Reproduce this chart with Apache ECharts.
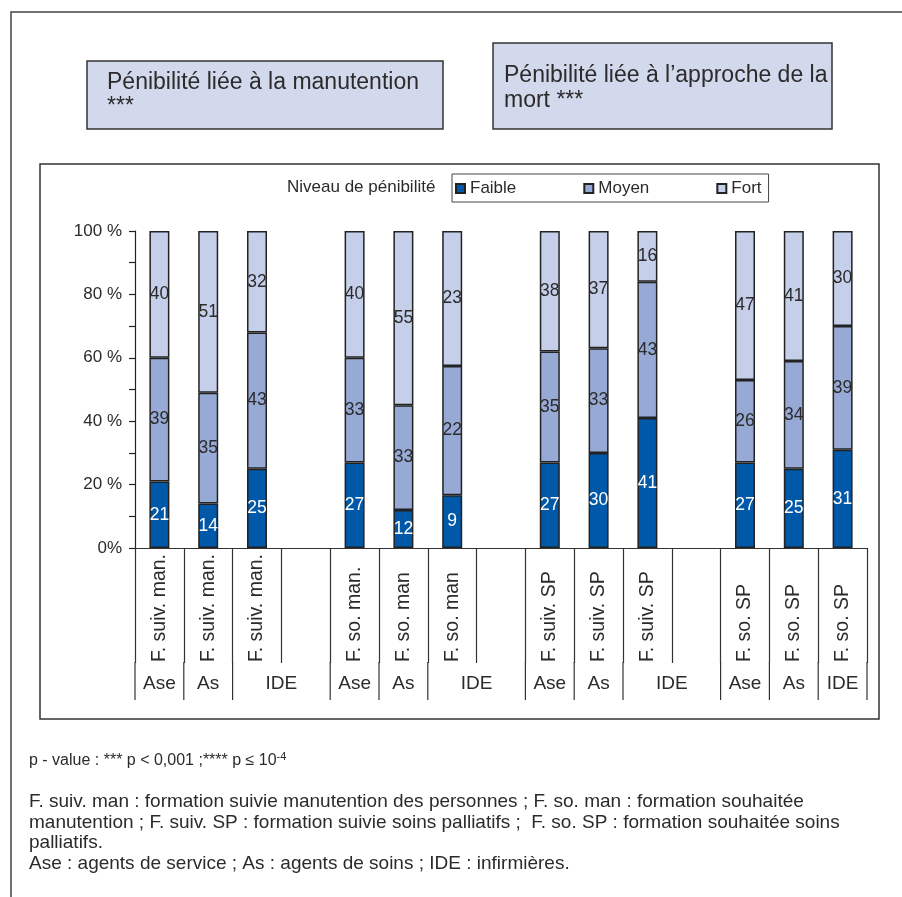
<!DOCTYPE html>
<html>
<head>
<meta charset="utf-8">
<script src="https://cdn.jsdelivr.net/npm/echarts@6/dist/echarts.min.js"></script>
<style>html,body{margin:0;padding:0;background:#fff;}#c{width:902px;height:897px;}</style>
</head>
<body>
<div id="c"></div>
<script>
// ---- data ----
const categories = ['F. suiv. man.', 'F. suiv. man.', 'F. suiv. man.', '',
  'F. so. man.', 'F. so. man', 'F. so. man', '',
  'F. suiv. SP', 'F. suiv. SP', 'F. suiv. SP', '',
  'F. so. SP', 'F. so. SP', 'F. so. SP'];
const faible = [21, 14, 25, null, 27, 12, 9, null, 27, 30, 41, null, 27, 25, 31];
const moyen  = [39, 35, 43, null, 33, 33, 22, null, 35, 33, 43, null, 26, 34, 39];
const fort   = [40, 51, 32, null, 40, 55, 23, null, 38, 37, 16, null, 47, 41, 30];
const seriesNames = ['Faible', 'Moyen', 'Fort'];
const groupLabels = ['Ase', 'As', 'IDE', 'Ase', 'As', 'IDE', 'Ase', 'As', 'IDE', 'Ase', 'As', 'IDE'];
const groupSpans  = [1, 1, 2, 1, 1, 2, 1, 1, 2, 1, 1, 1];
const title1 = ['Pénibilité liée à la manutention', '***'];
const title2 = ['Pénibilité liée à l\u2019approche de la', 'mort ***'];
const legendTitle = 'Niveau de pénibilité';
const note1a = 'p - value : *** p < 0,001 ;**** p \u2264 10';
const note1b = '-4';
const noteLines = [
  'F. suiv. man : formation suivie manutention des personnes ; F. so. man : formation souhaitée',
  'manutention ; F. suiv. SP : formation suivie soins palliatifs ;  F. so. SP : formation souhaitée soins',
  'palliatifs.',
  'Ase : agents de service ; As : agents de soins ; IDE : infirmières.'
];

// ---- styles ----
const FONT = '"Liberation Sans", Arial, sans-serif';
const colors = ['#0058a8', '#97a9d5', '#c6cfe9'];
const TXT = '#2b2b2b';

const raw = [faible, moyen, fort];
function pctData(k) {
  return categories.map((c, i) => {
    const v = raw[k][i];
    if (v == null) return null;
    const tot = faible[i] + moyen[i] + fort[i];
    return { value: v / tot * 100, raw: v };
  });
}

const chart = echarts.init(document.getElementById('c'));
const option = {
  animation: false,
  textStyle: { fontFamily: FONT },
  grid: { left: 135, right: 35, top: 231, bottom: 349, containLabel: false },
  legend: {
    left: 452, top: 174,
    padding: [6, 7, 5, 3],
    borderColor: '#444', borderWidth: 1,
    itemWidth: 9, itemHeight: 9, itemGap: 67,
    icon: 'rect',
    textStyle: { fontSize: 17, color: TXT, fontFamily: FONT },
    data: seriesNames
  },
  xAxis: {
    type: 'category',
    data: categories,
    axisLine: { lineStyle: { color: '#333', width: 1.2 } },
    axisTick: { show: true, interval: 0, length: 115, lineStyle: { color: '#333', width: 1.2 } },
    axisLabel: {
      interval: 0, rotate: 90, align: 'left', verticalAlign: 'middle', margin: 114,
      fontSize: 19.5, color: TXT, fontFamily: FONT
    },
    splitLine: { show: false }
  },
  yAxis: {
    type: 'value', min: 0, max: 100, interval: 20,
    axisLine: { show: true, lineStyle: { color: '#222', width: 1.2 } },
    axisTick: { show: true, length: 6, lineStyle: { color: '#222', width: 1.2 } },
    minorTick: { show: true, splitNumber: 2, length: 6, lineStyle: { color: '#222', width: 1.2 } },
    splitLine: { show: false },
    axisLabel: {
      margin: 13, fontSize: 17, color: TXT, fontFamily: FONT,
      formatter: v => (v === 0 ? '0%' : v + ' %')
    }
  },
  series: seriesNames.map((n, k) => ({
    name: n, type: 'bar', stack: 'total', barWidth: 20,
    itemStyle: { color: colors[k], borderColor: '#222', borderWidth: 1.5 },
    label: {
      show: true, position: 'inside', fontSize: 17.5, fontFamily: FONT,
      color: k === 0 ? '#ffffff' : TXT,
      formatter: p => (p.data && p.data.raw != null ? String(p.data.raw) : '')
    },
    data: pctData(k)
  }))
};
chart.setOption(option);

// ---- layout helpers via the library's scales ----
const c0 = chart.convertToPixel({ xAxisIndex: 0 }, 0);
const c1 = chart.convertToPixel({ xAxisIndex: 0 }, 1);
const w = c1 - c0;
const bnd = k => c0 - w / 2 + k * w;
const y0 = chart.convertToPixel({ yAxisIndex: 0 }, 0);
const rowTop = y0 + 115, rowBot = y0 + 152;

const g = [];
// outer frame
g.push({ type: 'rect', shape: { x: 11, y: 12, width: 1000, height: 1000 }, style: { fill: 'none', stroke: '#444', lineWidth: 1.5 }, silent: true });
// chart frame
g.push({ type: 'rect', shape: { x: 40, y: 164, width: 839, height: 555 }, style: { fill: 'none', stroke: '#333', lineWidth: 1.5 }, silent: true });
// title boxes
g.push({ type: 'rect', shape: { x: 87, y: 61, width: 356, height: 68 }, style: { fill: '#d3d9ec', stroke: '#333', lineWidth: 1.5 } });
g.push({ type: 'rect', shape: { x: 493, y: 43, width: 339, height: 86 }, style: { fill: '#d3d9ec', stroke: '#333', lineWidth: 1.5 } });
title1.forEach((t, i) => g.push({ type: 'text', x: 107, y: 83 + i * 24, style: { text: t, font: '23px ' + FONT, fill: TXT, verticalAlign: 'middle' } }));
title2.forEach((t, i) => g.push({ type: 'text', x: 504, y: 76 + i * 25, style: { text: t, font: '23px ' + FONT, fill: TXT, verticalAlign: 'middle' } }));
// legend title
g.push({ type: 'text', x: 287, y: 187, style: { text: legendTitle, font: '17px ' + FONT, fill: TXT, verticalAlign: 'middle' } });
// group separators and labels
let k = 0;
const cuts = [0];
groupSpans.forEach(s => { k += s; cuts.push(k); });
cuts.forEach(ci => {
  const x = bnd(ci);
  g.push({ type: 'line', shape: { x1: x, y1: rowTop - 1, x2: x, y2: rowBot }, style: { stroke: '#333', lineWidth: 1.2 } });
});
groupLabels.forEach((lab, i) => {
  const xm = (bnd(cuts[i]) + bnd(cuts[i + 1])) / 2;
  g.push({ type: 'text', x: xm, y: (rowTop + rowBot) / 2 + 2, style: { text: lab, font: '19px ' + FONT, fill: TXT, align: 'center', verticalAlign: 'middle' } });
});
// footnotes
g.push({ type: 'text', x: 29, y: 761, style: {
  text: '{n|' + note1a + '}{s|' + note1b + '}',
  rich: { n: { fontSize: 16, fontFamily: FONT, fill: TXT, lineHeight: 19 }, s: { fontSize: 11, fontFamily: FONT, fill: TXT, lineHeight: 19, verticalAlign: 'top' } },
  verticalAlign: 'middle'
} });
noteLines.forEach((t, i) => g.push({ type: 'text', x: 29, y: 802 + i * 20.5, style: { text: t, font: '19px ' + FONT, fill: TXT, verticalAlign: 'middle' } }));

chart.setOption({ graphic: g });
</script>
</body>
</html>
